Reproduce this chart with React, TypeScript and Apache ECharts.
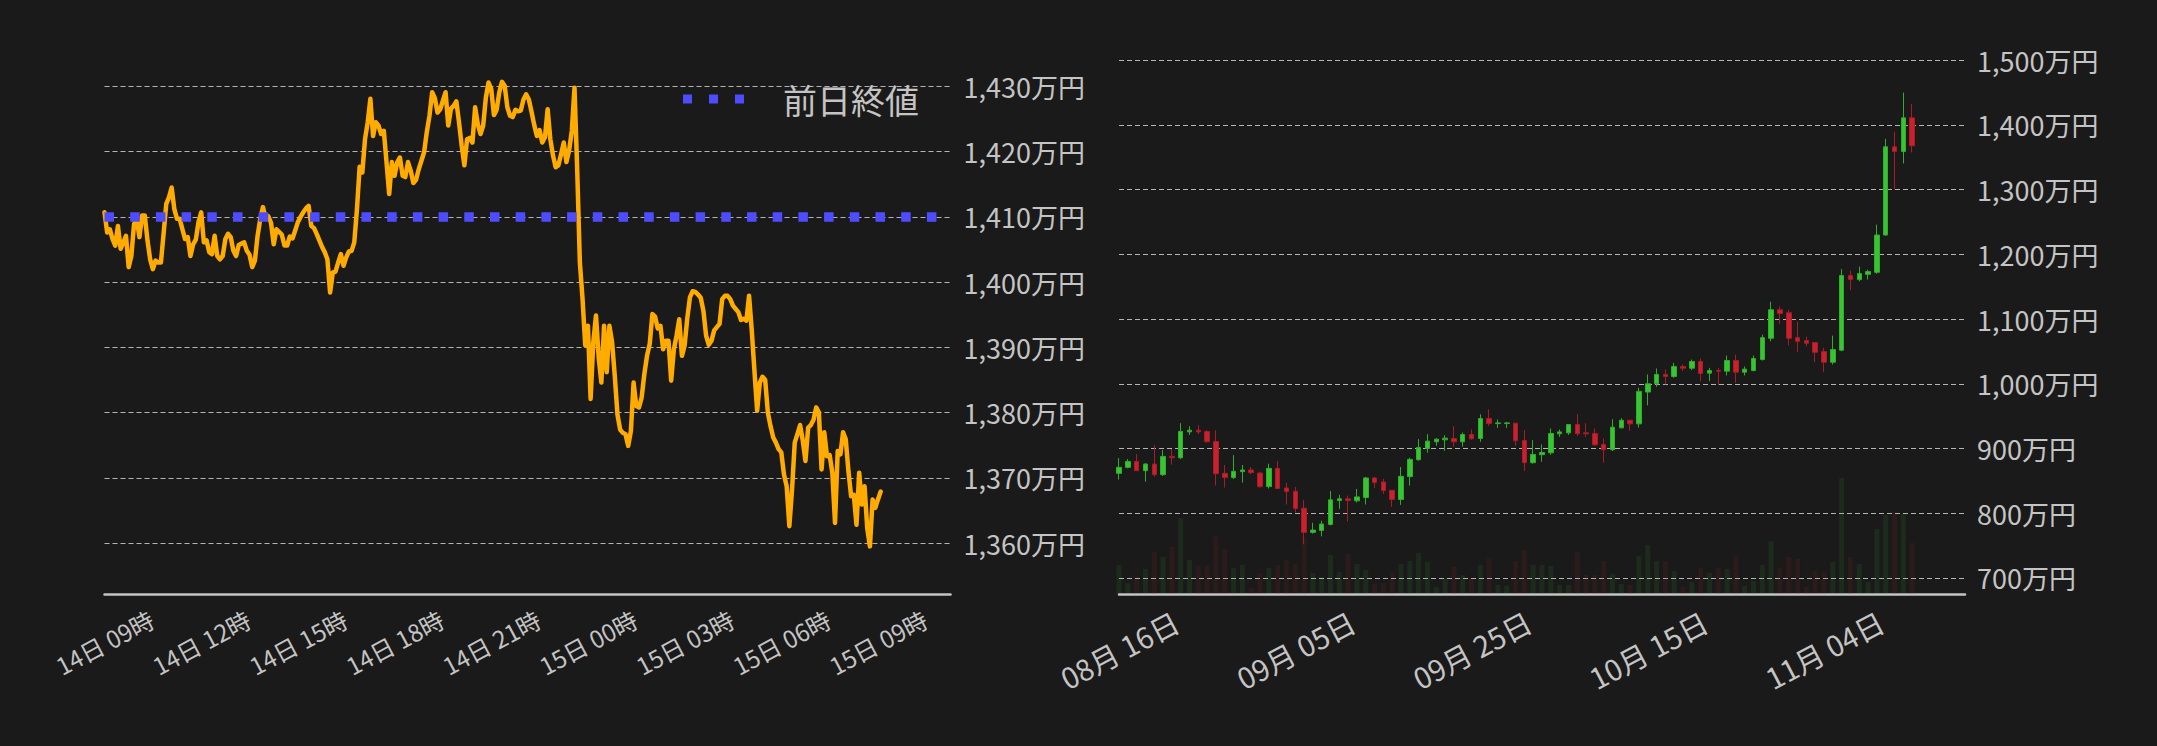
import { useEffect, useRef } from "react";
import * as echarts from "echarts";

const FONT = '"Noto Sans CJK JP", "Noto Sans", sans-serif';

// ---------- left chart: intraday price (万円), 5-minute steps from 14日 09:00 ----------
const PREV_CLOSE = 1410;
const PREV_CLOSE_NAME = "前日終値";

const INTRADAY_PRICES: number[] = [
  1410.7, 1407.6, 1408.1, 1406.6, 1405.6, 1408.6, 1405.1, 1406.1, 1407.1, 1402.3,
  1404.0, 1408.9, 1409.7, 1406.9, 1410.2, 1410.2, 1406.4, 1403.5, 1402.0, 1403.3,
  1403.0, 1403.0, 1407.4, 1412.0, 1413.0, 1414.5, 1411.2, 1409.7, 1409.7, 1408.1,
  1406.6, 1406.9, 1404.0, 1405.8, 1406.5, 1409.2, 1410.7, 1406.1, 1406.4, 1404.6,
  1404.3, 1407.1, 1404.0, 1403.5, 1404.0, 1406.6, 1407.4, 1406.9, 1404.8, 1404.0,
  1405.7, 1405.9, 1406.1, 1404.8, 1404.2, 1402.3, 1403.3, 1407.1, 1409.7, 1411.5,
  1409.8, 1410.1, 1409.1, 1405.8, 1408.1, 1407.7, 1407.3, 1405.6, 1405.6, 1407.0,
  1406.7, 1407.9, 1409.2, 1410.0, 1410.7, 1411.3, 1411.7, 1408.6, 1408.3, 1407.4,
  1406.4, 1405.4, 1404.6, 1403.5, 1398.4, 1401.5, 1401.6, 1403.0, 1404.3, 1402.5,
  1403.8, 1404.7, 1404.8, 1406.1, 1411.2, 1417.7, 1416.8, 1421.9, 1424.5, 1428.1,
  1422.4, 1424.5, 1424.0, 1422.7, 1423.2, 1418.4, 1413.5, 1418.4, 1416.3, 1418.4,
  1419.1, 1416.3, 1416.1, 1418.4, 1417.1, 1415.2, 1415.7, 1417.3, 1418.6, 1419.9,
  1423.0, 1425.5, 1429.1, 1428.2, 1426.0, 1426.5, 1427.8, 1429.1, 1424.0, 1426.6,
  1427.0, 1427.7, 1424.5, 1420.9, 1417.9, 1421.9, 1422.1, 1421.4, 1426.8, 1424.2,
  1422.7, 1424.0, 1428.3, 1430.6, 1429.6, 1425.6, 1426.4, 1429.1, 1430.7, 1430.1,
  1426.8, 1425.5, 1425.3, 1426.4, 1426.2, 1426.3, 1428.0, 1428.8, 1428.0, 1426.1,
  1424.1, 1422.4, 1423.3, 1421.4, 1422.2, 1426.5, 1421.9, 1419.4, 1417.6, 1417.9,
  1419.6, 1421.4, 1418.4, 1420.2, 1423.2, 1429.8, 1417.3, 1403.0, 1397.4,
  1390.3, 1393.3, 1382.1, 1390.8, 1394.9, 1388.5, 1384.6, 1393.3, 1386.2, 1393.3,
  1390.8, 1385.6, 1379.7, 1377.4, 1376.9, 1376.7, 1374.9, 1377.2, 1384.6, 1381.0,
  1380.8, 1382.3, 1385.9, 1388.7, 1390.5, 1395.1, 1394.7, 1392.9, 1393.3, 1389.7,
  1391.0, 1391.0, 1384.9, 1389.7, 1391.8, 1394.3, 1388.7, 1390.3, 1394.5, 1397.7,
  1398.6, 1398.5, 1398.1, 1397.6, 1395.6, 1391.8, 1390.4, 1391.0, 1392.6, 1393.1,
  1393.6, 1397.4, 1397.9, 1397.9, 1397.4, 1396.4, 1395.9, 1395.4, 1394.2, 1394.4,
  1394.1, 1397.9, 1392.6, 1386.4, 1380.3, 1384.6, 1385.5, 1385.0, 1380.0, 1377.9,
  1376.2, 1375.4, 1374.4, 1373.9, 1370.5, 1368.7, 1362.6, 1368.2, 1375.4, 1376.7,
  1378.1, 1375.7, 1372.6, 1377.7, 1378.1, 1378.9, 1380.8, 1380.0, 1371.3, 1377.0,
  1373.3, 1373.5, 1370.8, 1363.1, 1374.1, 1373.6, 1377.0, 1375.9, 1371.0, 1367.2,
  1367.4, 1362.8, 1370.8, 1365.9, 1368.7, 1362.3, 1359.5, 1366.7, 1365.4, 1366.7,
  1367.9,
];

const INTRADAY_START_DAY = 14;
const INTRADAY_START_HOUR = 9;
const INTRADAY_STEP_MIN = 5;
const INTRADAY_SLOT_COUNT = 316;
const INTRADAY_LABEL_EVERY = 36; // every 3 hours
const INTRADAY_Y_MIN = 1352.2;
const INTRADAY_Y_MAX = 1434;

// ---------- right chart: daily candles (万円) from 2024-08-16 ----------
const DAILY_START_UTC = Date.UTC(2024, 7, 16);
const DAILY_SLOT_COUNT = 97;
const DAILY_LABEL_EVERY = 20;
const DAILY_Y_MIN = 675;
const DAILY_Y_MAX = 1500;

// [open, close, low, high]
const CANDLES: number[][] = [
  [861.5, 870.8, 851.8, 885.1], [870.8, 880.0, 869.2, 883.6], [880.0, 865.6, 865.6, 891.3],
  [865.6, 875.9, 848.7, 877.4], [875.9, 859.5, 856.4, 905.1], [859.5, 887.7, 857.4, 897.4],
  [887.7, 885.6, 874.9, 899.0], [885.6, 926.2, 883.6, 939.0], [925.6, 928.2, 921.0, 934.4],
  [928.2, 925.6, 922.1, 935.9], [926.2, 910.3, 909.2, 928.2], [910.8, 861.0, 842.6, 928.2],
  [861.5, 854.9, 839.5, 874.4], [854.9, 864.6, 852.8, 889.7], [864.1, 866.7, 847.2, 874.4],
  [866.7, 862.6, 860.5, 871.3], [862.0, 841.0, 839.0, 864.1], [841.0, 869.2, 838.0, 876.4],
  [869.2, 838.0, 837.4, 880.5], [839.0, 833.3, 813.3, 846.7], [833.8, 807.2, 801.0, 840.5],
  [807.7, 770.3, 751.8, 820.5], [770.3, 773.8, 768.2, 785.1], [773.3, 783.1, 764.1, 788.2],
  [782.6, 820.5, 781.0, 834.4], [819.5, 822.1, 806.7, 828.2], [822.1, 819.5, 787.2, 827.2],
  [819.0, 825.1, 816.4, 837.4], [824.1, 854.4, 813.3, 855.9], [854.4, 847.2, 839.0, 855.9],
  [848.2, 834.9, 829.7, 852.8], [835.4, 821.0, 809.7, 835.4], [821.0, 856.9, 812.8, 871.3],
  [856.4, 883.1, 842.6, 885.6], [882.6, 901.5, 881.0, 914.4], [900.0, 911.3, 893.3, 922.1],
  [910.3, 914.4, 904.1, 915.9], [913.3, 915.9, 896.4, 920.5], [915.4, 910.3, 902.6, 934.4],
  [910.3, 921.5, 902.6, 924.6], [921.5, 914.9, 913.3, 929.2], [915.4, 946.2, 910.3, 952.8],
  [946.2, 938.5, 934.9, 960.5], [938.5, 939.5, 931.8, 944.6], [938.5, 939.5, 931.8, 941.0],
  [939.0, 911.8, 904.1, 939.0], [912.3, 878.0, 865.1, 928.2], [878.0, 890.8, 876.4, 912.8],
  [890.3, 893.8, 879.5, 906.2], [893.3, 923.1, 890.3, 930.8], [922.6, 925.6, 917.9, 929.2],
  [924.1, 936.9, 921.0, 936.9], [936.9, 922.6, 919.5, 952.8], [924.1, 922.6, 917.9, 939.0],
  [923.1, 905.6, 904.1, 930.8], [906.2, 898.0, 878.0, 915.4], [898.0, 932.8, 895.9, 945.1],
  [931.8, 943.6, 931.3, 946.7], [943.6, 938.0, 927.2, 944.1], [938.0, 988.2, 932.3, 993.8],
  [987.2, 1000.0, 966.7, 1014.4], [1000.0, 1014.4, 995.4, 1023.6], [1014.4, 1011.3, 999.0, 1022.1],
  [1011.3, 1026.7, 1009.2, 1032.3], [1026.7, 1024.1, 1019.5, 1029.7], [1024.1, 1034.4, 1021.0, 1037.4],
  [1034.4, 1015.9, 1004.1, 1039.0], [1016.4, 1020.5, 1004.1, 1024.6], [1020.5, 1019.5, 998.0, 1024.6],
  [1019.5, 1035.9, 1012.8, 1043.6], [1035.9, 1017.9, 1001.5, 1045.1], [1017.9, 1022.6, 1012.8, 1026.7],
  [1020.5, 1039.0, 1019.0, 1043.6], [1037.4, 1071.3, 1035.9, 1075.9], [1070.3, 1114.4, 1065.6, 1126.7],
  [1114.4, 1108.7, 1092.8, 1119.5], [1109.7, 1070.3, 1059.5, 1114.4], [1071.3, 1065.6, 1048.7, 1095.9],
  [1066.7, 1062.6, 1057.9, 1072.8], [1063.6, 1048.7, 1033.3, 1063.6], [1049.7, 1033.3, 1017.9, 1055.4],
  [1033.3, 1052.8, 1029.7, 1074.4], [1051.8, 1167.2, 1050.3, 1177.2], [1167.2, 1161.0, 1144.5, 1174.9],
  [1161.0, 1170.3, 1158.4, 1181.1], [1169.2, 1173.4, 1161.0, 1176.4], [1172.3, 1229.9, 1169.8, 1245.9],
  [1229.9, 1366.3, 1228.9, 1378.6], [1366.3, 1359.1, 1300.9, 1389.4], [1359.1, 1411.0, 1340.5, 1450.1],
  [1411.0, 1367.8, 1357.5, 1432.6],
];

// relative daily volume
const VOLUME: number[] = [
  29, 10.7, 17.3, 25, 42, 37, 47, 76, 34, 28,
  28, 58, 45, 26, 29, 6, 21, 26, 29, 34,
  30, 57, 21, 17, 39, 22, 40, 30, 24, 10,
  11, 22, 30, 33, 41, 32, 7, 16, 27, 19,
  16, 29, 36, 9, 8, 33, 44, 29, 29, 28,
  9, 9, 42, 19, 19, 33, 20, 10, 9, 38,
  49, 33, 33, 23, 7, 12, 26, 21, 26, 25,
  37, 8, 13, 29, 53, 26, 37, 35, 7, 23,
  22, 32, 116, 37, 30, 12, 65, 79, 82, 80,
  51,
];
const VOLUME_AXIS_MAX = 534;

const pad2 = (n: number) => String(n).padStart(2, "0");

const INTRADAY_CATEGORIES = Array.from({ length: INTRADAY_SLOT_COUNT }, (_, i) => {
  const total = INTRADAY_START_HOUR * 60 + i * INTRADAY_STEP_MIN;
  const day = INTRADAY_START_DAY + Math.floor(total / 1440);
  const hour = Math.floor((total % 1440) / 60);
  const min = total % 60;
  return min === 0 ? `${day}日 ${pad2(hour)}時` : `${day}日 ${pad2(hour)}:${pad2(min)}`;
});

const DAILY_CATEGORIES = Array.from({ length: DAILY_SLOT_COUNT }, (_, i) => {
  const d = new Date(DAILY_START_UTC + i * 86400000);
  return `${pad2(d.getUTCMonth() + 1)}月 ${pad2(d.getUTCDate())}日`;
});

const yen = (v: number) => `${Math.round(v).toLocaleString("en-US")}万円`;

const BG = "#1a1a1a";
const TEXT = "#c4c4c4";
const GRID_LINE = "#b4b4b4";
const AXIS_LINE = "#c4c4c4";
const UP = "#38c531";
const UP_BORDER = "#2fae2b";
const DOWN = "#c9222e";
const DOWN_BORDER = "#a81c27";

export default function App() {
  const ref = useRef<HTMLDivElement>(null);

  useEffect(() => {
    document.body.style.margin = "0";
    document.body.style.background = BG;
    if (!ref.current) return;
    const chart = echarts.init(ref.current, null, { renderer: "svg" });

    const splitLine = {
      show: true,
      showMinLine: false,
      lineStyle: { color: GRID_LINE, width: 1, type: [5, 3] },
    };

    const option: any = {
      backgroundColor: BG,
      animation: false,
      textStyle: { fontFamily: FONT },
      legend: {
        show: true,
        left: 683,
        top: 82,
        padding: 0,
        selectedMode: false,
        itemWidth: 61,
        itemHeight: 9,
        itemStyle: { borderWidth: 0, color: "#4d4dff" },
        data: [{ name: PREV_CLOSE_NAME, icon: "path://M0,0H9V9H0Z M26,0H35V9H26Z M52,0H61V9H52Z" }],
        textStyle: { color: TEXT, fontSize: 34, fontFamily: FONT, padding: [0, 0, 0, 34] },
      },
      grid: [
        { left: 104.5, top: 60.3, width: 846, height: 533.7, containLabel: false, outerBoundsMode: "none" },
        { left: 1119, top: 60.3, width: 846, height: 533.7, containLabel: false, outerBoundsMode: "none" },
      ],
      xAxis: [
        {
          gridIndex: 0,
          type: "category",
          data: INTRADAY_CATEGORIES,
          boundaryGap: false,
          axisLine: { show: true, lineStyle: { color: AXIS_LINE, width: 2.5 } },
          axisTick: { show: false },
          splitLine: { show: false },
          axisLabel: {
            interval: (i: number) => i % INTRADAY_LABEL_EVERY === 0,
            rotate: 28,
            align: "center",
            verticalAlign: "middle",
            margin: 48,
            color: TEXT,
            fontSize: 24,
            fontFamily: FONT,
          },
        },
        {
          gridIndex: 1,
          type: "category",
          data: DAILY_CATEGORIES,
          boundaryGap: false,
          axisLine: { show: true, lineStyle: { color: AXIS_LINE, width: 2.5 } },
          axisTick: { show: false },
          splitLine: { show: false },
          axisLabel: {
            interval: (i: number) => i % DAILY_LABEL_EVERY === 0,
            rotate: 28,
            align: "center",
            verticalAlign: "middle",
            margin: 55,
            color: TEXT,
            fontSize: 29,
            fontFamily: FONT,
          },
        },
      ],
      yAxis: [
        {
          gridIndex: 0,
          type: "value",
          position: "right",
          min: INTRADAY_Y_MIN,
          max: INTRADAY_Y_MAX,
          splitNumber: 8,
          axisLine: { show: false },
          axisTick: { show: false },
          splitLine: { ...splitLine, showMaxLine: false },
          axisLabel: {
            showMinLabel: false,
            showMaxLabel: false,
            margin: 13,
            color: TEXT,
            fontSize: 27,
            fontFamily: FONT,
            formatter: yen,
          },
        },
        {
          gridIndex: 1,
          type: "value",
          position: "right",
          min: DAILY_Y_MIN,
          max: DAILY_Y_MAX,
          splitNumber: 8,
          axisLine: { show: false },
          axisTick: { show: false },
          splitLine: { ...splitLine, showMaxLine: true },
          axisLabel: {
            showMinLabel: false,
            margin: 12,
            color: TEXT,
            fontSize: 27,
            fontFamily: FONT,
            formatter: yen,
          },
        },
        {
          gridIndex: 1,
          type: "value",
          min: 0,
          max: VOLUME_AXIS_MAX,
          show: false,
          splitLine: { show: false },
        },
      ],
      series: [
        {
          type: "line",
          name: "価格",
          xAxisIndex: 0,
          yAxisIndex: 0,
          data: INTRADAY_PRICES,
          showSymbol: false,
          symbol: "none",
          z: 2,
          lineStyle: { color: "#ffab00", width: 4.5, join: "round", cap: "round" },
          itemStyle: { color: "#ffab00" },
        },
        {
          type: "line",
          name: PREV_CLOSE_NAME,
          xAxisIndex: 0,
          yAxisIndex: 0,
          data: [],
          z: 3,
          itemStyle: { color: "#4d4dff" },
          lineStyle: { color: "#4d4dff" },
          markLine: {
            silent: true,
            symbol: ["none", "none"],
            label: { show: false },
            z: 3,
            lineStyle: { color: "#4d4dff", width: 9.5, type: [9.5, 16.2], cap: "butt" },
            data: [{ yAxis: PREV_CLOSE }],
          },
        },
        {
          type: "bar",
          name: "出来高",
          xAxisIndex: 1,
          yAxisIndex: 2,
          barWidth: 5,
          z: 1,
          data: VOLUME.map((v, i) => ({
            value: v,
            itemStyle: {
              color: CANDLES[i][1] >= CANDLES[i][0] ? "rgba(60,200,60,0.1)" : "rgba(200,40,40,0.1)",
            },
          })),
        },
        {
          type: "candlestick",
          name: "日足",
          xAxisIndex: 1,
          yAxisIndex: 1,
          barWidth: 5,
          clip: true,
          z: 2,
          itemStyle: {
            color: UP,
            color0: DOWN,
            borderColor: UP_BORDER,
            borderColor0: DOWN_BORDER,
            borderWidth: 1,
          },
          data: CANDLES,
        },
      ],
    };

    chart.setOption(option);
    return () => chart.dispose();
  }, []);

  return <div ref={ref} style={{ width: 2157, height: 746 }} />;
}
